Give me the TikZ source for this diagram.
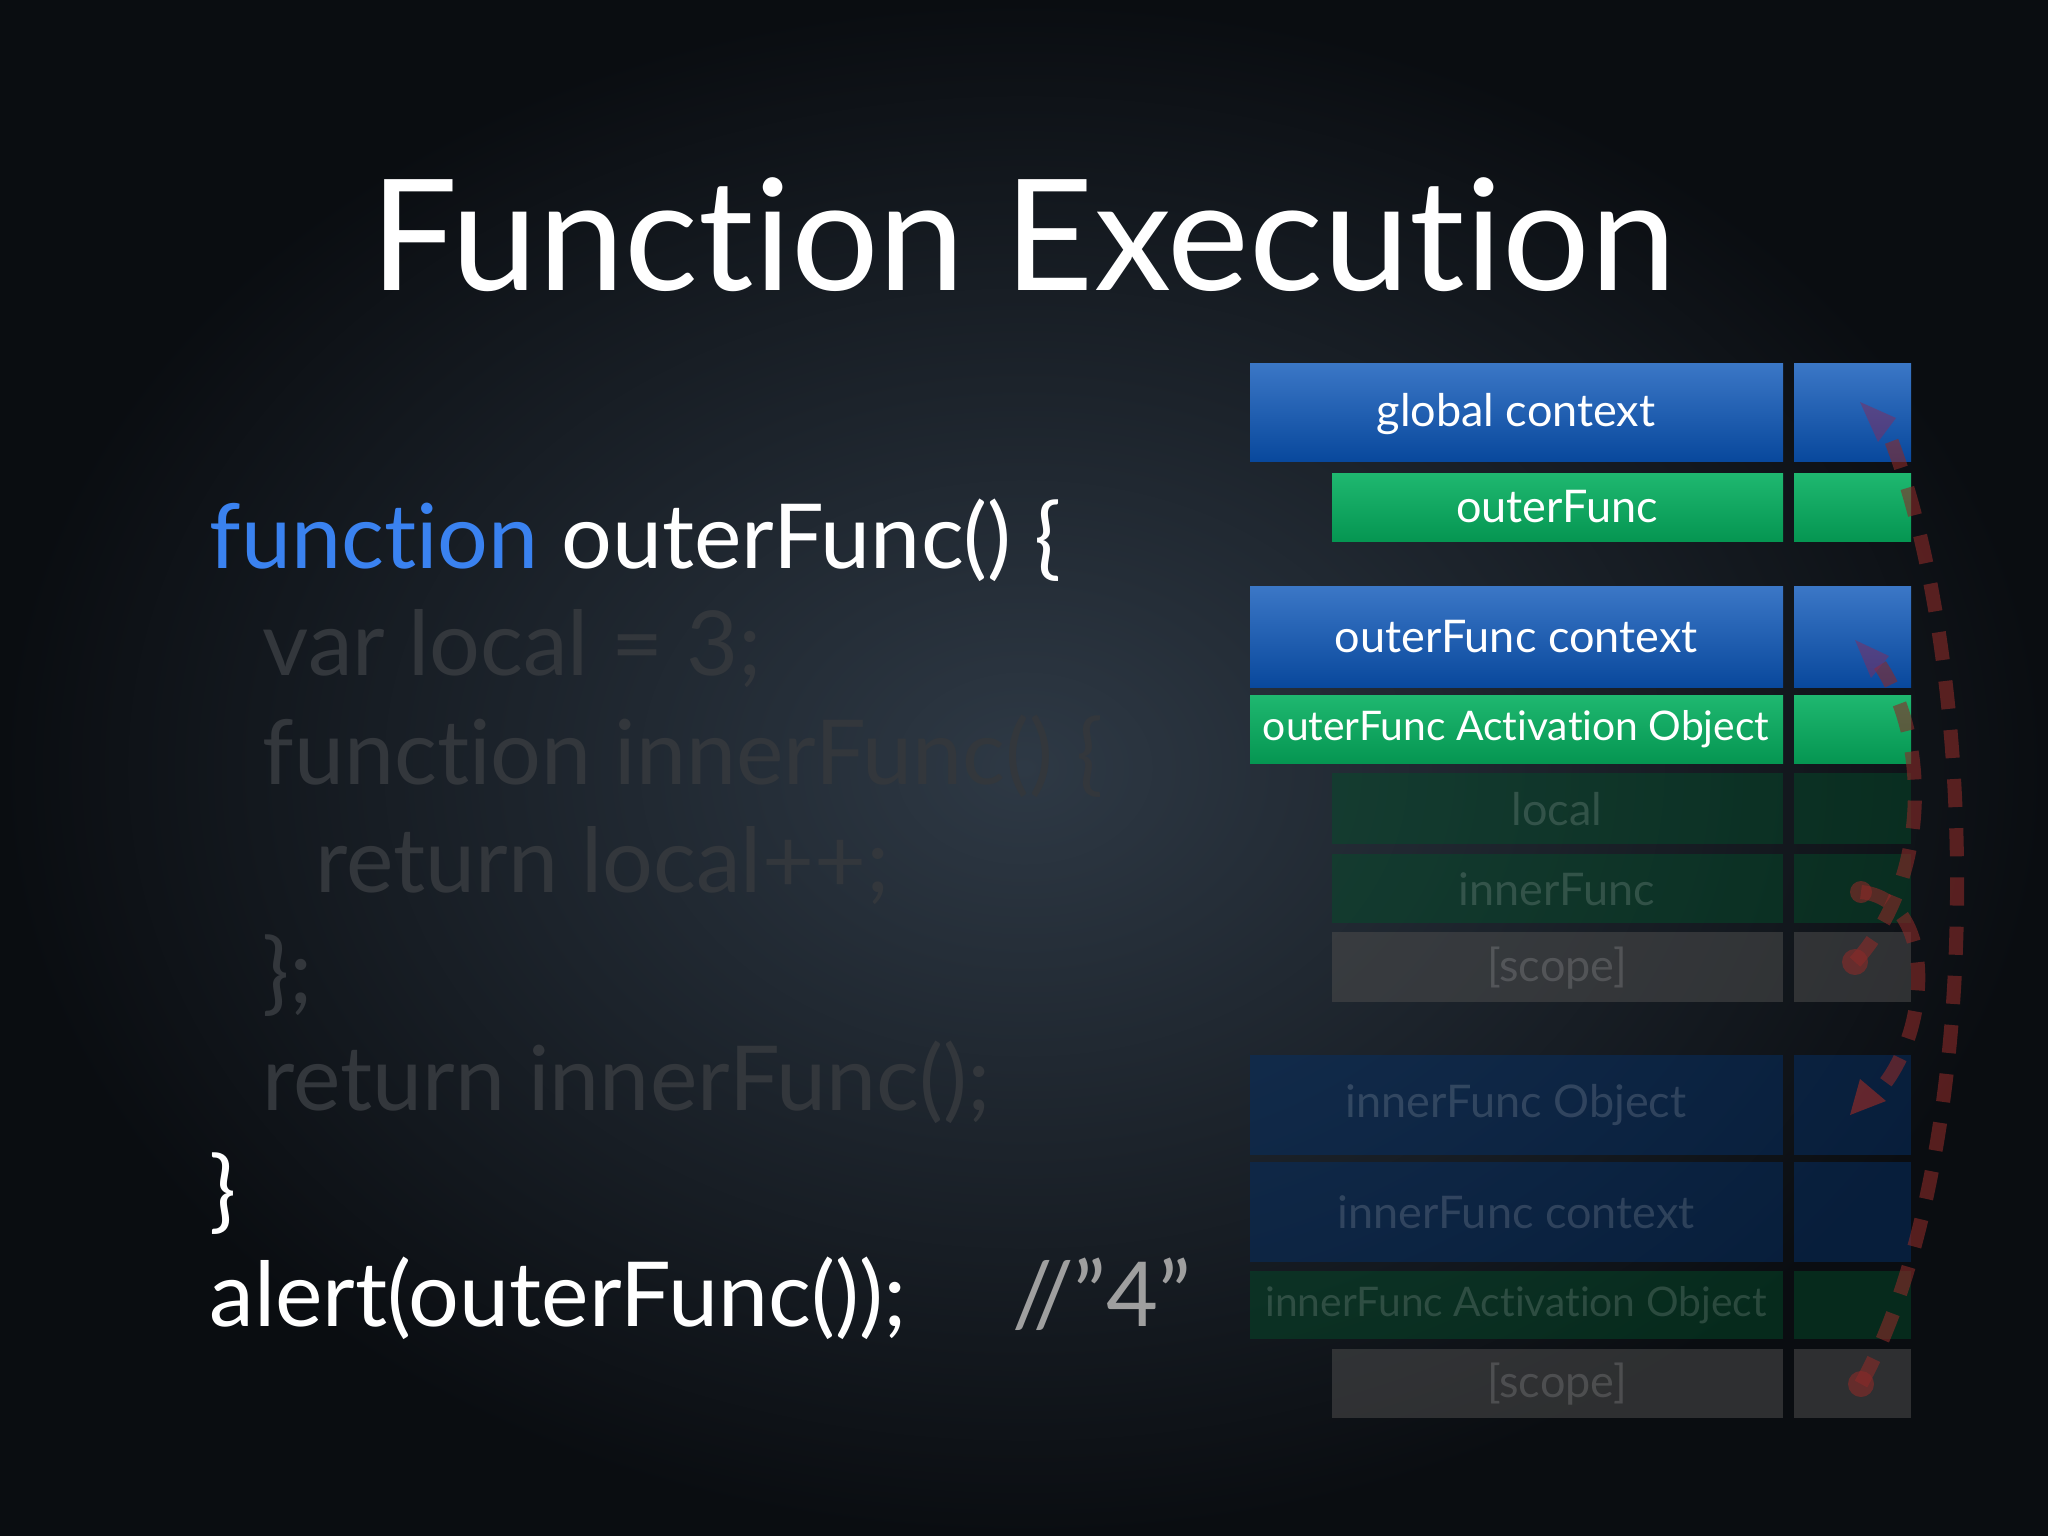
\documentclass[tikz,border=0pt]{standalone}
\usepackage{fontspec}
\setmainfont{Lato}[Ligatures=NoCommon]
\usetikzlibrary{arrows.meta}
\definecolor{bgin}{HTML}{2E3945}
\definecolor{bgout}{HTML}{0A0D11}
\definecolor{cblue}{HTML}{0A55B8}
\definecolor{cgreen}{HTML}{06B060}
\definecolor{kw}{HTML}{3A82F0}
\definecolor{fadecode}{HTML}{33373C}
\definecolor{dred}{HTML}{8A2A28}
\begin{document}
\begin{tikzpicture}[x=0.01cm,y=-0.01cm,
  bluebox/.style={draw=none,top color=cblue!80!white,bottom color=cblue!85!black,inner sep=0},
  greenbox/.style={draw=none,top color=cgreen!90!white,bottom color=cgreen!85!black,inner sep=0},
  fadegreen/.style={draw=none,fill=cgreen!45!black,fill opacity=0.45,inner sep=0},
  fadeblue/.style={draw=none,fill=cblue!55!black,fill opacity=0.5,inner sep=0},
  fadegray/.style={draw=none,fill=gray!60!black,fill opacity=0.55,inner sep=0},
  lbl/.style={text=white,font=\fontsize{12.8}{14}\selectfont},
  flbl/.style={text=white,text opacity=0.15,font=\fontsize{12.8}{14}\selectfont},
  code/.style={anchor=base west,inner sep=0,font=\fontsize{25.5}{28}\selectfont},
  fcode/.style={code,text=fadecode},
  redl/.style={draw=dred,opacity=0.6,line width=4pt,dash pattern=on 8pt off 6pt},
  redtip/.style={fill=dred,opacity=0.6}]
\useasboundingbox (0,0) rectangle (2048,1536);
\shade[inner color=bgin,outer color=bgout] (0,0) rectangle (2048,1536);
\node[anchor=base,text=white,font=\fontsize{44}{48}\selectfont,inner sep=0] (title) at (1023,290) {Function Execution};
% code
\node[code] (c1) at (209,568) {\textcolor{kw}{function} \textcolor{white}{outerFunc() \{}};
\node[fcode] (c2) at (262,675) {var local = 3;};
\node[fcode] (c3) at (262,784) {function innerFunc() \{};
\node[fcode] (c4) at (315,892) {return local++;};
\node[fcode] (c5) at (262,1003) {\};};
\node[fcode] (c6) at (262,1110) {return innerFunc();};
\node[code,text=white] (c7) at (209,1221) {\}};
\node[code,text=white] (c8) at (209,1326) {alert(outerFunc());};
\node[code,text=gray!75] (c9) at (1012,1326) {//''4''};
% boxes
\path[bluebox] (1250,363) rectangle (1783,461); \path[bluebox] (1794,363) rectangle (1911,461);
\node[lbl] (g) at (1516,414) {global context};
\path[greenbox] (1332,473) rectangle (1783,541); \path[greenbox] (1794,473) rectangle (1911,541);
\node[lbl] (of) at (1557,507) {outerFunc};
\path[bluebox] (1250,586) rectangle (1783,687); \path[bluebox] (1794,586) rectangle (1911,687);
\node[lbl] (oc) at (1516,637) {outerFunc context};
\path[greenbox] (1250,695) rectangle (1783,763); \path[greenbox] (1794,695) rectangle (1911,763);
\node[lbl,font=\fontsize{11.6}{13}\selectfont] (oa) at (1516,729) {outerFunc Activation Object};
\path[fadegreen] (1332,773) rectangle (1783,844); \path[fadegreen] (1794,773) rectangle (1911,844);
\node[flbl] (lo) at (1557,809) {local};
\path[fadegreen] (1332,854) rectangle (1783,923); \path[fadegreen] (1794,854) rectangle (1911,923);
\node[flbl] (inf) at (1557,889) {innerFunc};
\path[fadegray] (1332,932) rectangle (1783,1002); \path[fadegray] (1794,932) rectangle (1911,1002);
\node[flbl] (sc1) at (1557,968) {[scope]};
\path[fadeblue] (1250,1055) rectangle (1783,1155); \path[fadeblue] (1794,1055) rectangle (1911,1155);
\node[flbl] (io) at (1516,1105) {innerFunc Object};
\path[fadeblue] (1250,1162) rectangle (1783,1262); \path[fadeblue] (1794,1162) rectangle (1911,1262);
\node[flbl] (ic) at (1516,1212) {innerFunc context};
\path[fadegreen] (1250,1271) rectangle (1783,1339); \path[fadegreen] (1794,1271) rectangle (1911,1339);
\node[flbl,font=\fontsize{11.6}{13}\selectfont] (ia) at (1516,1305) {innerFunc Activation Object};
\path[fadegray] (1332,1349) rectangle (1783,1418); \path[fadegray] (1794,1349) rectangle (1911,1418);
\node[flbl] (sc2) at (1557,1384) {[scope]};
% pointers
\coordinate (pg) at (1860,402); \coordinate (poc) at (1855,640); \coordinate (pio) at (1850,1115);
\coordinate (b1) at (1855,962); \coordinate (b2) at (1861,892); \coordinate (b3) at (1861,1384);
\draw[redl] (b1) .. controls (1930,880) and (1930,740) .. (1880,665);
\draw[redl] (b2) .. controls (1940,900) and (1930,1040) .. (1875,1095);
\draw[redl] (b3) .. controls (1990,1150) and (1980,650) .. (1885,425);
\fill[redtip] (b1) circle (13); \fill[redtip] (b2) circle (11); \fill[redtip] (b3) circle (13);
\fill[cblue!50!red,opacity=0.5] (pg) -- ++(36,16) -- ++(-18,24) -- cycle;
\fill[cblue!50!red,opacity=0.5] (poc) -- ++(34,16) -- ++(-18,22) -- cycle;
\fill[dred,opacity=0.7] (pio) -- ++(10,-36) -- ++(26,22) -- cycle;
\end{tikzpicture}
\end{document}
